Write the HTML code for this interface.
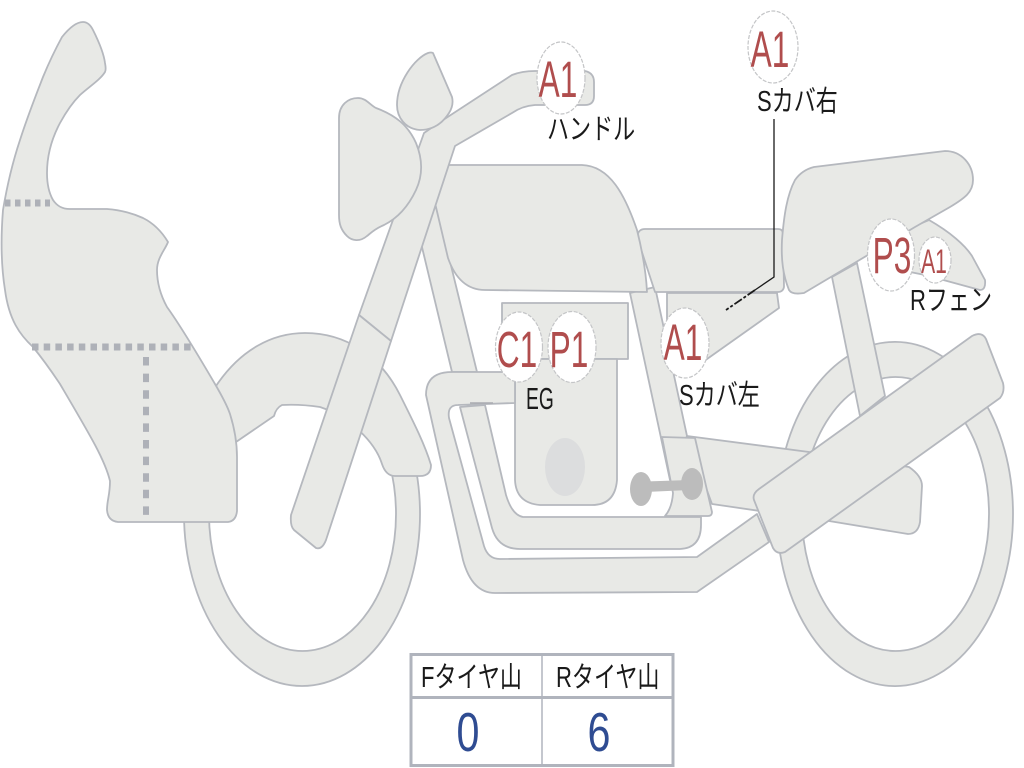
<!DOCTYPE html>
<html lang="ja"><head><meta charset="utf-8"><title>Diagram</title>
<style>
html,body{margin:0;padding:0;background:#fff}
svg{display:block}
.s{fill:#e8e9e6;stroke:#b5b8be;stroke-width:1.8;stroke-linejoin:round}
.c{fill:#fff;stroke:#c4c5c7;stroke-width:1.2;stroke-dasharray:4 1.5}
.r{font-family:"Liberation Sans",sans-serif;fill:#b04d4d;text-anchor:middle}
.l{font-family:"Liberation Sans","Noto Sans CJK JP",sans-serif;fill:#1a1a1a;text-anchor:start}
.n{font-family:"Liberation Sans",sans-serif;fill:#2f4c92;text-anchor:middle}
</style></head><body>
<svg width="1024" height="768" viewBox="0 0 1024 768" xmlns="http://www.w3.org/2000/svg">
<!-- front wheel -->
<path class="s" fill-rule="evenodd" d="M184,514a118,172 0 1,0 236,0a118,172 0 1,0 -236,0ZM209,514a93.5,137 0 1,0 187,0a93.5,137 0 1,0 -187,0Z"/>
<!-- front fender -->
<path class="s" d="M216,386C240,350 272,333 305,333C345,333 380,355 400,395C415,425 425,445 431,465Q431,476 420,476L395,476Q386,476 382,464C375,442 350,417 320,407Q300,404 282,405Q276,408 274,416L236,442L216,386Z"/>
<!-- fairing -->
<path class="s" d="M83,22C88,22 91,26 93,30C99,42 104,55 105,63C106,68 106,70 105,72C100,80 90,86 80,95C72,103 66,112 60,123C52,138 47,155 47,173C47,185 49,193 53,200C57,206 62,209 70,209L107,209C120,210 132,213 143,218C153,223 162,232 168,242C165,250 157,258 157,270C157,283 161,296 167,307C180,325 198,355 215,384C222,396 227,405 230,414C235,430 237,445 237,457L237,511Q236,521 228,522L118,522Q108,521 107,510C107,500 110,495 110,481C105,460 90,435 60,384C52,372 42,358 33,347C20,335 9,320 5,290C1,265 1,235 3,210C8,180 14,158 20,140C28,115 36,95 43,77C50,60 56,48 62,37C70,27 77,22 83,22Z"/>
<!-- dots -->
<g fill="none" stroke="#aeb1b8">
<path stroke-width="7" stroke-dasharray="5.5 4.5" d="M5,203H50"/>
<path stroke-width="7" stroke-dasharray="6.5 5.2" d="M32,347H192"/>
<path stroke-width="6" stroke-dasharray="8.5 8.1" d="M146,357V516"/>
</g>
<!-- rear wheel -->
<path class="s" fill-rule="evenodd" d="M777,514a118,172 0 1,0 236,0a118,172 0 1,0 -236,0ZM802,514a93.5,137 0 1,0 187,0a93.5,137 0 1,0 -187,0Z"/>
<!-- rear stay -->
<path class="s" d="M832,277L857,263L885,396L860,416Z"/>
<!-- tail fender -->
<path class="s" d="M900,232L929,220C950,232 965,245 972,256L985,280Q986,290 980,290L925,275L900,270Z"/>
<!-- frame down tube -->
<path class="s" d="M435,200L477,372L452,372L421,243Z"/>
<!-- rear frame tube -->
<path class="s" d="M630,293L655,287L687,436L670,480Z"/>
<!-- side cover -->
<path class="s" d="M667,293L777,293L779,308L700,364L667,364Z"/>
<!-- seat side -->
<path class="s" d="M645,229L778,229Q783,229 783,234L784,287Q783,292 778,292L655,292L637,237Q638,229 645,229Z"/>
<!-- tank -->
<path class="s" d="M447,165L582,165C610,166 625,195 637,230C642,250 646,270 647,292L485,290C467,290 455,278 448,258L435,203Z"/>
<!-- seat -->
<path class="s" d="M814,167L945,151C962,151 973,165 973,180C973,192 965,198 950,207L915,227L804,293Q792,295 789,290C783,275 781,260 782,240C784,215 787,195 795,180Q802,170 814,167Z"/>
<!-- fork + handlebar -->
<path class="s" d="M359,315L424,133L440,122L512,75Q522,71 535,71L585,71Q594,73 594,82L594,96Q594,105 585,105L535,105Q522,106 512,113L455,146L391,341Z"/>
<path class="s" d="M359,315L391,341L326,540Q322,550 316,548L294,530Q290,526 291,515Z"/>
<!-- headlight -->
<path class="s" d="M339,118C339,105 348,98 358,98C366,98 370,105 376,108C395,115 408,125 416,143C423,160 423,175 416,190C408,207 398,218 384,225C375,229 372,232 367,236C360,242 352,241 347,236C341,230 339,224 339,215Z"/>
<!-- meter -->
<path class="s" d="M433,53L452,97Q454,105 449,113C442,124 432,130 420,130C405,129 397,117 397,105C397,82 415,58 428,53Q431,52 433,53Z"/>
<!-- engine -->
<path class="s" d="M502,303H628V359H502Z"/>
<path class="s" d="M515,359H617V480Q615,505 592,505L540,505Q516,503 515,480Z"/>
<ellipse cx="565" cy="467" rx="20" ry="29" fill="#dcddde"/>
<!-- exhaust 1 -->
<path class="s" d="M515,372L452,372Q426,372 426,395L463,560Q472,593 495,593L697,592L769,542L757,514L697,557L500,559Q488,559 484,546L449,418Q447,405 458,405L515,403Z"/>
<!-- exhaust 2 -->
<path class="s" d="M460,407L492,528Q498,549 520,549L680,549Q701,548 701,525L701,517L523,517Q512,515 506,495L485,405Z"/>
<path d="M470,403H493" stroke="#a9abb0" stroke-width="1.5"/>
<!-- swingarm -->
<path class="s" d="M687,436L809,452L909,467Q922,476 922,486L920,522Q918,534 908,534L829,521L712,504Z"/>
<!-- bracket -->
<path class="s" d="M662,437L695,438L712,512Q712,516 708,516L665,516Q672,508 673,493Z"/>
<!-- peg -->
<g fill="#bcbcbc"><ellipse cx="641" cy="489" rx="11" ry="17"/><ellipse cx="692" cy="484" rx="11" ry="16"/><path d="M645,481.5L690,480L690,490L645,492Z"/></g>
<!-- muffler -->
<path class="s" d="M759,489L972,336Q982,331 986,339L1003,383Q1005,392 1000,398L785,552Q777,555 773,548L754,500Q752,494 759,489Z"/>
<!-- leader -->
<path d="M774,119V277L755,290" fill="none" stroke="#1a1a1a" stroke-width="1.3"/>
<path d="M755,290L726,310" fill="none" stroke="#1a1a1a" stroke-width="1.8" stroke-dasharray="9 2 3 2"/>
<!-- circles -->
<ellipse class="c" cx="561" cy="78" rx="24" ry="36"/>
<ellipse class="c" cx="773" cy="47" rx="25" ry="36"/>
<ellipse class="c" cx="685" cy="343" rx="24" ry="35"/>
<ellipse class="c" cx="891" cy="255" rx="23.5" ry="36"/>
<ellipse class="c" cx="935" cy="260" rx="16" ry="23"/>
<ellipse class="c" cx="519" cy="347" rx="23.5" ry="35"/>
<ellipse class="c" cx="572" cy="347" rx="24" ry="35.5"/>
<!-- labels red -->
<g class="r" font-size="51">
<text transform="translate(558,97) scale(.62,1)">A1</text>
<text transform="translate(770,67) scale(.62,1)">A1</text>
<text transform="translate(683,360) scale(.62,1)">A1</text>
<text transform="translate(892,273) scale(.62,1)">P3</text>
<text transform="translate(517,367) scale(.62,1)">C1</text>
<text transform="translate(569,367) scale(.62,1)">P1</text>
<text transform="translate(934,273) scale(.62,1)" font-size="34">A1</text>
</g>
<!-- labels black -->
<g class="l" font-size="29">
<text transform="translate(547,139) scale(.76,1)">ハンドル</text>
<text transform="translate(757,111) scale(.76,1)">Sカバ右</text>
<text transform="translate(910,310) scale(.76,1)">Rフェン</text>
<text transform="translate(679,405) scale(.76,1)">Sカバ左</text>
<text transform="translate(526,409) scale(.62,1)" font-size="31">EG</text>
</g>
<!-- table -->
<rect x="411" y="654.5" width="262" height="111" fill="#fff" stroke="#b0b4bd" stroke-width="3"/>
<path d="M411,697.5H673" stroke="#b0b4bd" stroke-width="3"/>
<path d="M542,654V766" stroke="#b0b4bd" stroke-width="1.5"/>
<g class="l" font-size="29">
<text transform="translate(421,687) scale(.76,1)">Fタイヤ山</text>
<text transform="translate(556,687) scale(.76,1)">Rタイヤ山</text>
</g>
<g class="n" font-size="55">
<text transform="translate(468,751) scale(.75,1)">0</text>
<text transform="translate(599,751) scale(.75,1)">6</text>
</g>
</svg>
</body></html>
